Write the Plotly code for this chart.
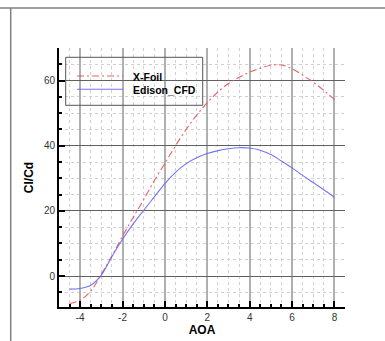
import plotly.graph_objects as go

aoa = [-4.5, -4, -3.5, -3, -2.5, -2, -1.5, -1, -0.5, 0, 0.5, 1, 1.5, 2, 2.5, 3,
       3.5, 4, 4.5, 5, 5.5, 6, 6.5, 7, 7.5, 8]
xfoil = [-8.4, -7.4, -4.6, 0.6, 6.2, 12.3, 18.0, 23.5, 29.3, 34.6, 40.0, 45.0,
         49.4, 53.2, 56.5, 59.1, 61.0, 62.6, 63.8, 64.7, 64.8, 63.6, 61.7, 59.5,
         57.0, 54.2]
edison = [-4.0, -3.8, -2.8, 0.3, 6.0, 11.3, 16.0, 20.2, 24.3, 28.4, 31.8, 34.5,
          36.3, 37.6, 38.5, 39.1, 39.4, 39.3, 38.6, 37.3, 35.3, 33.2, 30.9, 28.7,
          26.5, 24.2]
series_names = ["X-Foil", "Edison_CFD"]
x_ticks = [-4, -2, 0, 2, 4, 6, 8]
y_ticks = [0, 20, 40, 60]

W, H = 385, 341
ML, MR, MT, MB = 59, 40, 48, 34
PW, PH = W - ML - MR, H - MT - MB

def px(x):
    return (x - ML) / PW

def py(y):
    return (H - MB - y) / PH

red = "rgba(230,80,80,0.9)"
blue = "rgba(100,100,255,0.9)"
red_dash = "7px,3px,2px,3px"

fig = go.Figure()
fig.add_trace(go.Scatter(x=aoa, y=xfoil, mode="lines", name=series_names[0],
                         line=dict(color=red, width=1.1, dash=red_dash, shape="spline"),
                         showlegend=False))
fig.add_trace(go.Scatter(x=aoa, y=edison, mode="lines", name=series_names[1],
                         line=dict(color=blue, width=1.1, shape="spline"),
                         showlegend=False))

font = "Liberation Sans, Arial, sans-serif"

fig.update_layout(
    width=W, height=H,
    margin=dict(l=ML, r=MR, t=MT, b=MB, pad=0, autoexpand=False),
    paper_bgcolor="white", plot_bgcolor="white",
    font=dict(family=font, size=10, color="#333"),
    showlegend=False,
    xaxis=dict(
        range=[-5, 8.5], tickvals=x_ticks, ticktext=[str(v) for v in x_ticks],
        ticks="inside", ticklen=6, tickwidth=2, tickcolor="black",
        showline=True, linecolor="black", linewidth=2, mirror=False,
        showgrid=True, gridcolor="#b0b0b0", gridwidth=2, zeroline=False,
        automargin=False,
        minor=dict(dtick=0.5, tick0=0, ticks="inside", ticklen=3, tickcolor="black",
                   showgrid=True, gridcolor="#d0d0d0", griddash="dot", gridwidth=1),
        title=dict(text="<b>AOA</b>", font=dict(size=12, color="black"), standoff=2),
        tickfont=dict(size=10, color="#333"),
    ),
    yaxis=dict(
        range=[-9.5, 70], tickvals=y_ticks, ticktext=[str(v) for v in y_ticks],
        ticks="inside", ticklen=6, tickwidth=2, tickcolor="black",
        showline=True, linecolor="black", linewidth=2, mirror=False,
        showgrid=True, gridcolor="#606060", gridwidth=1, zeroline=False,
        automargin=False,
        minor=dict(dtick=5, tick0=0, ticks="inside", ticklen=3, tickcolor="black",
                   showgrid=True, gridcolor="#d0d0d0", griddash="dot", gridwidth=1),
        title=dict(text="<b>Cl/Cd</b>", font=dict(size=12, color="black"), standoff=8),
        tickfont=dict(size=10, color="#333"),
    ),
)

shapes = []
# outer frame lines
shapes.append(dict(type="line", xref="paper", yref="paper", x0=px(0), x1=px(W),
                   y0=py(8), y1=py(8), line=dict(color="#808080", width=1.5)))
shapes.append(dict(type="line", xref="paper", yref="paper", x0=px(10.7), x1=px(10.7),
                   y0=py(8), y1=py(H), line=dict(color="#808080", width=1.5)))
# legend box
shapes.append(dict(type="rect", xref="paper", yref="paper", x0=px(65.7), x1=px(202.7),
                   y0=py(105.3), y1=py(57.3), line=dict(color="#555", width=1)))
shapes.append(dict(type="line", xref="paper", yref="paper", x0=px(77), x1=px(123),
                   y0=py(76), y1=py(76), line=dict(color=red, width=1.1, dash=red_dash)))
shapes.append(dict(type="line", xref="paper", yref="paper", x0=px(77), x1=px(123),
                   y0=py(89.3), y1=py(89.3), line=dict(color=blue, width=1.1)))
fig.update_layout(shapes=shapes)

for name, yy in zip(series_names, [76.5, 89.8]):
    fig.add_annotation(xref="paper", yref="paper", x=px(130.5), y=py(yy),
                       xanchor="left", yanchor="middle", showarrow=False,
                       text="<b>%s</b>" % name, font=dict(size=10.5, color="black", family=font))

fig.write_html("out.html")
